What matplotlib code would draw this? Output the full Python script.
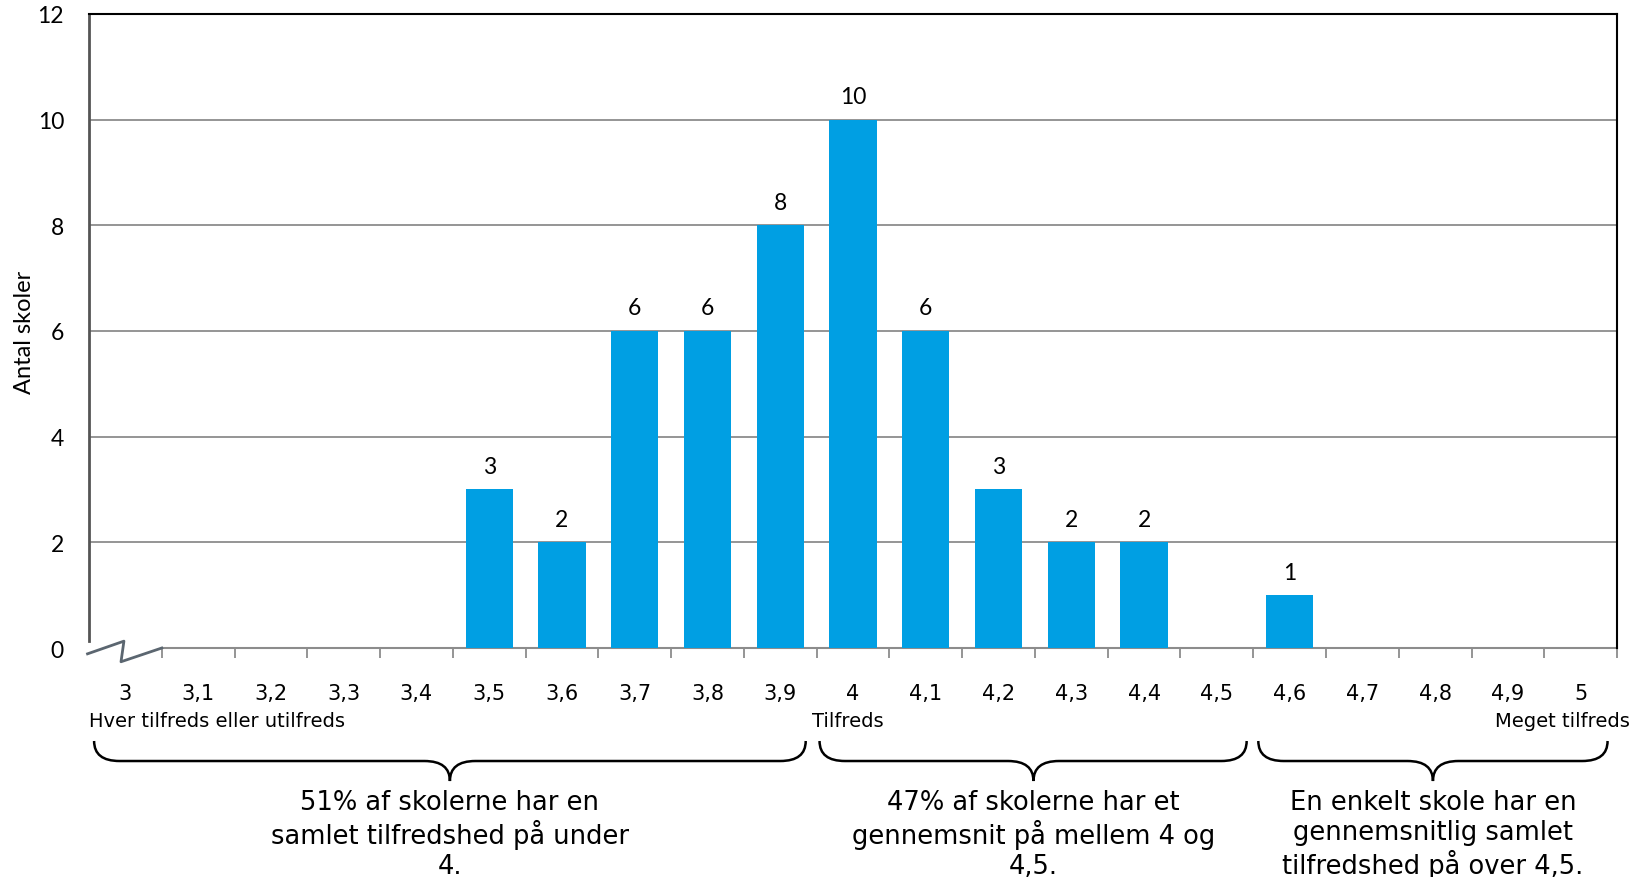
import numpy as np
import matplotlib
matplotlib.use("Agg")
import matplotlib.pyplot as plt
from matplotlib.path import Path
from matplotlib.patches import PathPatch
from matplotlib.transforms import blended_transform_factory

# data
categories = ["3", "3,1", "3,2", "3,3", "3,4", "3,5", "3,6", "3,7", "3,8", "3,9", "4",
              "4,1", "4,2", "4,3", "4,4", "4,5", "4,6", "4,7", "4,8", "4,9", "5"]
counts = [0, 0, 0, 0, 0, 3, 2, 6, 6, 8, 10, 6, 3, 2, 2, 0, 1, 0, 0, 0, 0]
y_ticks = [0, 2, 4, 6, 8, 10, 12]
scale_labels = ["Hver tilfreds eller utilfreds", "Tilfreds", "Meget tilfreds"]
group_texts = ["51% af skolerne har en\nsamlet tilfredshed på under\n4.",
               "47% af skolerne har et\ngennemsnit på mellem 4 og\n4,5.",
               "En enkelt skole har en\ngennemsnitlig samlet\ntilfredshed på over 4,5."]

BLUE = "#009FE3"
GRID = "#8c8c8c"
num_font = "Lato"

fig = plt.figure(figsize=(16.45, 8.78), dpi=100)
ax = fig.add_axes([0.0541, 0.2608, 0.983 - 0.0541, 0.983 - 0.2608])

x = np.arange(len(categories))
bars = ax.bar(x, counts, width=0.65, color=BLUE, zorder=3)
for xi, c in zip(x, counts):
    if c > 0:
        ax.annotate(str(c), (xi, c), xytext=(0, 9), textcoords="offset points",
                    ha="center", va="bottom", fontsize=16.5, family=num_font)

ax.set_xlim(-0.5, len(categories) - 0.5)
ax.set_ylim(0, 12)

# y axis
ax.set_yticks(y_ticks)
ax.set_yticklabels([str(v) for v in y_ticks], family=num_font, fontsize=16.5)
ax.tick_params(axis="y", length=0, pad=18)
for v in y_ticks[1:-1]:
    ax.axhline(v, color=GRID, lw=1.3, zorder=1)
ax.set_ylabel("Antal skoler", family=num_font, fontsize=17, labelpad=2)

# x axis: ticks on boundaries, labels on centers
ax.set_xticks(np.arange(0.5, len(categories), 1.0))
ax.set_xticklabels([])
ax.tick_params(axis="x", which="major", length=7, width=1.3, color=GRID, direction="out")
ax.set_xticks(x, minor=True)
ax.set_xticklabels(categories, minor=True, fontsize=15, family="DejaVu Sans")
ax.tick_params(axis="x", which="minor", length=0, pad=25)

ax.spines["bottom"].set_visible(False)
ax.spines["top"].set_color("black")
ax.spines["top"].set_linewidth(1.5)
ax.spines["right"].set_color("black")
ax.spines["right"].set_linewidth(1.5)
ax.spines["left"].set_color("#555555")
ax.spines["left"].set_linewidth(2)
ax.spines["left"].set_bounds(0.13, 12)

# baseline with axis break
ax.plot([0.5, len(categories) - 0.5], [0, 0], color=GRID, lw=1.5, clip_on=False, zorder=2)
ax.plot([-0.52, -0.02, -0.06, 0.5], [-0.11, 0.13, -0.26, 0.0], color="#5b6670",
        lw=2, clip_on=False, zorder=4)

# scale anchor labels
tr = blended_transform_factory(ax.transData, fig.transFigure)
fig.text(-0.5, 0.1777, scale_labels[0], transform=tr, ha="left", va="center", fontsize=14)
fig.text(9.93, 0.1777, scale_labels[1], transform=tr, ha="center", va="center", fontsize=14)
fig.text(20.67, 0.1777, scale_labels[2], transform=tr, ha="right", va="center", fontsize=14)


def brace(x0, x1, xm, ytop=0.1549, ybar=0.1321, ytip=0.1093, r=0.35):
    verts = [(x0, ytop), (x0, ybar), (x0 + r, ybar),
             (xm - r, ybar), (xm, ybar), (xm, ytip),
             (xm, ybar), (xm + r, ybar),
             (x1 - r, ybar), (x1, ybar), (x1, ytop)]
    codes = [Path.MOVETO, Path.CURVE3, Path.CURVE3,
             Path.LINETO, Path.CURVE3, Path.CURVE3,
             Path.CURVE3, Path.CURVE3,
             Path.LINETO, Path.CURVE3, Path.CURVE3]
    p = PathPatch(Path(verts, codes), transform=tr, fill=False, lw=1.8,
                  edgecolor="black", clip_on=False)
    fig.add_artist(p)


brace(-0.43, 9.35, 4.46)
brace(9.54, 15.41, 12.48)
brace(15.57, 20.37, 17.97)

for xm, t in zip([4.46, 12.48, 17.97], group_texts):
    fig.text(xm, 0.049, t, transform=tr, ha="center", va="center",
             fontsize=18.5, linespacing=1.18)

fig.savefig("out.png", dpi=100)
